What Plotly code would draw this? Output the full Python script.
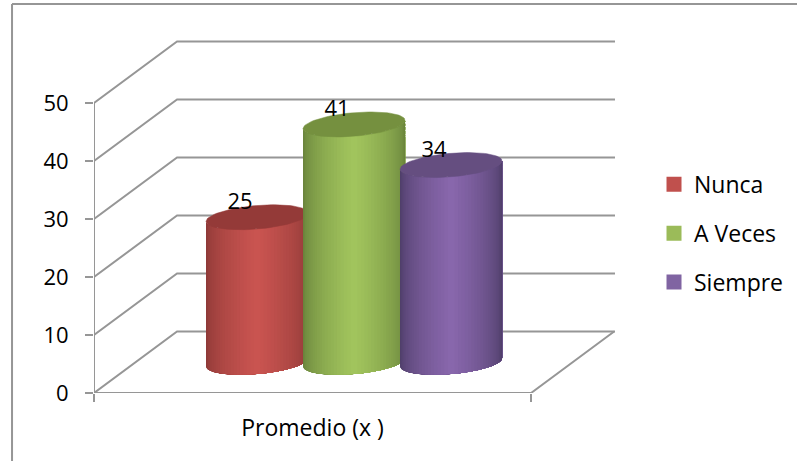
import numpy as np
import plotly.graph_objects as go

categories = ["Promedio (x )"]
series_names = ["Nunca", "A Veces", "Siempre"]
series_values = [25, 41, 34]
y_ticks = [0, 10, 20, 30, 40, 50]

legend_colors = ["#C0504D", "#9BBB59", "#8064A2"]
light_colors = ["#CB5551", "#A3C65E", "#8A68AE"]
edge_colors = ["#8A3836", "#66803A", "#4C3C66"]
top_colors = ["#943A38", "#75903F", "#654E80"]

GRID = "#969696"
LW = 2
FONT = "Open Sans"
FS = 22

# 3D-like oblique projection, expressed in axis units
DEPTH_X, DEPTH_Y = 0.19, 10.6
SERIES_STEP = 0.222
RAD_X, RAD_DX, RAD_DY = 0.11, 0.0387, 2.155
STRIPS = 46


def hex2rgb(h):
    return np.array([int(h[i:i + 2], 16) for i in (1, 3, 5)], float)


fig = go.Figure()


def line(xs, ys, width=LW):
    fig.add_trace(go.Scatter(x=xs, y=ys, mode="lines", showlegend=False, hoverinfo="skip",
                             line=dict(color=GRID, width=width), cliponaxis=False))


# walls and floor
for v in y_ticks:
    line([0, DEPTH_X, 1.192], [v, v + DEPTH_Y, v + DEPTH_Y])
line([0, 0], [0, 50])
line([0, 1, 1 + DEPTH_X], [0, 0, DEPTH_Y])


def ell(cx, cy, t):
    return cx + RAD_X * np.cos(t) + RAD_DX * np.sin(t), cy + RAD_DY * np.sin(t)


t_right = np.arctan2(RAD_DX, RAD_X)
for i, v in enumerate(series_values):
    cx = 0.5 + DEPTH_X / 2 + (i - 1) * SERIES_STEP
    cy0 = DEPTH_Y / 2
    ts = np.linspace(t_right - np.pi, t_right, STRIPS + 1)
    lo, hi = hex2rgb(edge_colors[i]), hex2rgb(light_colors[i])
    xs_all, _ = ell(cx, 0, ts)
    xmin, xmax = xs_all.min(), xs_all.max()
    for k in range(STRIPS):
        # each strip runs to the right edge; the next one paints over it, so no seams show
        seg = ts[k:]
        xb, yb = ell(cx, cy0, seg)
        xt, yt = ell(cx, cy0 + v, seg)
        mid = (0.5 * (xs_all[k] + xs_all[k + 1]) - xmin) / (xmax - xmin)
        f = np.clip(1 - abs(mid - 0.5) / 0.5, 0, 1) ** 0.55
        c = lo + (hi - lo) * f
        col = "rgb(%d,%d,%d)" % tuple(c)
        fig.add_trace(go.Scatter(
            x=np.r_[xb, xt[::-1], xb[0]], y=np.r_[yb, yt[::-1], yb[0]],
            mode="lines", fill="toself", fillcolor=col, line=dict(width=0),
            showlegend=False, hoverinfo="skip"))
    tt = np.linspace(0, 2 * np.pi, 90)
    xe, ye = ell(cx, cy0 + v, tt)
    fig.add_trace(go.Scatter(x=xe, y=ye, mode="lines", fill="toself", fillcolor=top_colors[i],
                             line=dict(color=top_colors[i], width=0.5),
                             showlegend=False, hoverinfo="skip"))

# data labels
for i, v in enumerate(series_values):
    cx = 0.5 + DEPTH_X / 2 + (i - 1) * SERIES_STEP
    fig.add_trace(go.Scatter(x=[cx - 0.039], y=[DEPTH_Y / 2 + v + 2.4], mode="text", text=[str(v)],
                             textposition="middle center",
                             textfont=dict(family=FONT, size=FS, color="#000000"),
                             showlegend=False, hoverinfo="skip", cliponaxis=False))

# legend
for i, name in enumerate(series_names):
    fig.add_trace(go.Scatter(x=[None], y=[None], mode="markers", name=name, legendgroup=name,
                             marker=dict(symbol="square", size=15, color=legend_colors[i])))

fig.update_layout(
    width=797, height=461, paper_bgcolor="white", plot_bgcolor="white",
    margin=dict(l=94, r=0, t=40, b=68),
    font=dict(family=FONT, size=FS, color="#000000"),
    xaxis=dict(domain=[0, 0.7411], range=[0, 1.192], showgrid=False, zeroline=False, showline=False,
               tickmode="array", tickvals=[0.5], ticktext=categories, ticks="",
               ticklabelstandoff=19, tickfont=dict(family=FONT, size=23),
               minor=dict(tickmode="array", tickvals=[0, 1], ticks="outside", ticklen=8,
                          tickcolor=GRID, tickwidth=LW)),
    yaxis=dict(range=[0, 60.86], showgrid=False, zeroline=False, showline=False,
               tickmode="array", tickvals=y_ticks, ticks="outside", ticklen=8, tickcolor=GRID,
               tickwidth=LW, ticklabelstandoff=12, tickfont=dict(family=FONT, size=FS)),
    legend=dict(x=0.7966, xanchor="left", y=0.652, yanchor="top", tracegroupgap=16,
                traceorder="grouped", bgcolor="rgba(0,0,0,0)", font=dict(family=FONT, size=23),
                entrywidth=80, entrywidthmode="pixels"),
    shapes=[
        dict(type="line", xref="paper", yref="paper", x0=-0.1166, x1=-0.1166, y0=-0.2, y1=1.102,
             line=dict(color=GRID, width=LW)),
        dict(type="line", xref="paper", yref="paper", x0=-0.1166, x1=1.0, y0=1.102, y1=1.102,
             line=dict(color=GRID, width=LW)),
    ],
)
fig.write_html("out.html", config={"displayModeBar": False},
               post_script="document.body.style.margin='0';")
